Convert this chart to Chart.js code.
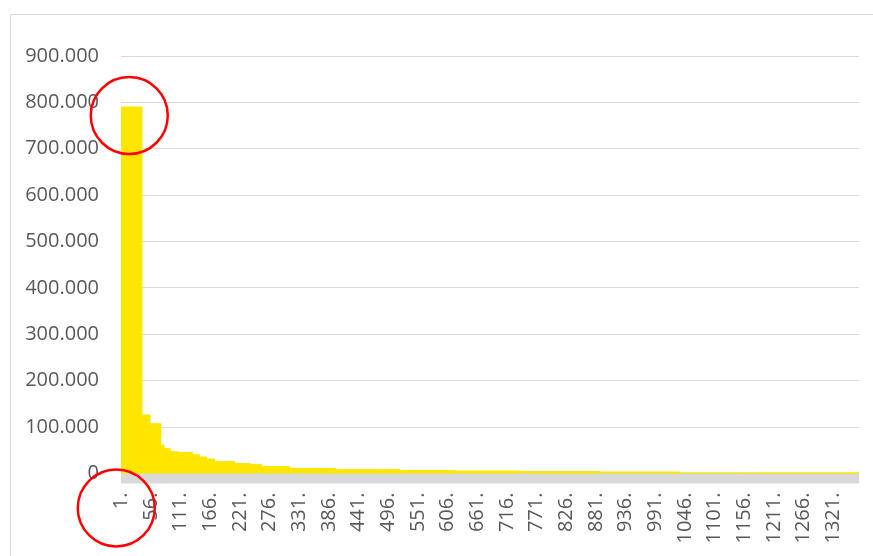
<!DOCTYPE html>
<html>
<head>
<meta charset="utf-8">
<script src="https://cdn.jsdelivr.net/npm/chart.js@4"></script>
<style>
html,body{margin:0;padding:0;background:#fff;}
canvas{display:block;}
</style>
</head>
<body>
<canvas id="c" width="873" height="556"></canvas>
<script>
// Step structure: number of consecutive categories and their value
const runLengths = [39, 15, 20, 6, 11, 15, 27, 13, 13, 15, 37, 28, 22, 52, 84, 120, 102, 121, 148, 148, 148, 184];
const runValues  = [790000, 126000, 107000, 61000, 54000, 47000, 45000, 40000, 35000, 31000, 25500, 22000, 19000, 15000, 11000, 8500, 6000, 5000, 4000, 2800, 1500, 300];
const yTicks = [0, 100000, 200000, 300000, 400000, 500000, 600000, 700000, 800000, 900000];
const labelStep = 55;

const values = [];
runLengths.forEach((n, i) => { for (let k = 0; k < n; k++) values.push(runValues[i]); });
const categories = values.map((_, i) => (i + 1) + '.');

const fmt = v => String(v).replace(/\B(?=(\d{3})+(?!\d))/g, '.');

const framePlugin = {
  id: 'frame',
  beforeDraw(chart) {
    const ctx = chart.ctx;
    ctx.save();
    ctx.fillStyle = '#fff';
    ctx.fillRect(0, 0, chart.width, chart.height);
    ctx.strokeStyle = '#d9d9d9';
    ctx.lineWidth = 1;
    ctx.strokeRect(10.5, 14.5, 900, 600);
    ctx.restore();
  },
  beforeDatasetsDraw(chart) {
    const ctx = chart.ctx, a = chart.chartArea, y0 = chart.scales.y.getPixelForValue(0);
    ctx.save();
    ctx.fillStyle = '#d9d9d9';
    ctx.fillRect(a.left, y0, a.right - a.left, 10);
    ctx.restore();
  },
  afterDraw(chart) {
    const ctx = chart.ctx, xs = chart.scales.x, ys = chart.scales.y;
    const x0 = xs.getPixelForValue(0);
    ctx.save();
    ctx.strokeStyle = '#ff0000';
    ctx.lineWidth = 2.5;
    ctx.beginPath();
    ctx.arc(x0 + 8, ys.getPixelForValue(runValues[0]) + 8.5, 38.5, 0, Math.PI * 2);
    ctx.stroke();
    ctx.beginPath();
    ctx.arc(x0 - 5, ys.getPixelForValue(0) + 34.5, 38.5, 0, Math.PI * 2);
    ctx.stroke();
    ctx.restore();
  }
};

new Chart(document.getElementById('c'), {
  type: 'bar',
  data: {
    labels: categories,
    datasets: [{
      data: values,
      backgroundColor: '#FFE600',
      borderWidth: 0,
      barPercentage: 1,
      categoryPercentage: 1,
      inflateAmount: 0.4
    }]
  },
  options: {
    responsive: false,
    animation: false,
    devicePixelRatio: 1,
    layout: { padding: { top: 56, right: 14, left: 0, bottom: 0 } },
    plugins: { legend: { display: false }, tooltip: { enabled: false } },
    scales: {
      x: {
        grid: { display: false, drawTicks: false },
        border: { display: false },
        afterFit(s) { s.height = 82.5; s.paddingLeft = 0; s.paddingRight = 0; },
        ticks: {
          autoSkip: false,
          maxRotation: 90,
          minRotation: 90,
          padding: 19,
          color: '#595959',
          font: { family: 'Open Sans', size: 20 },
          callback(v, i) { return i % labelStep === 0 ? categories[i] : null; }
        }
      },
      y: {
        min: 0,
        max: 900000,
        afterFit(s) { s.width = 121; },
        afterBuildTicks(s) { s.ticks = yTicks.map(v => ({ value: v })); },
        grid: { color: '#d9d9d9', lineWidth: 1, drawTicks: false },
        border: { display: false },
        ticks: {
          padding: 22,
          color: '#595959',
          font: { family: 'Open Sans', size: 20 },
          callback: v => fmt(v)
        }
      }
    }
  },
  plugins: [framePlugin]
});
</script>
</body>
</html>
